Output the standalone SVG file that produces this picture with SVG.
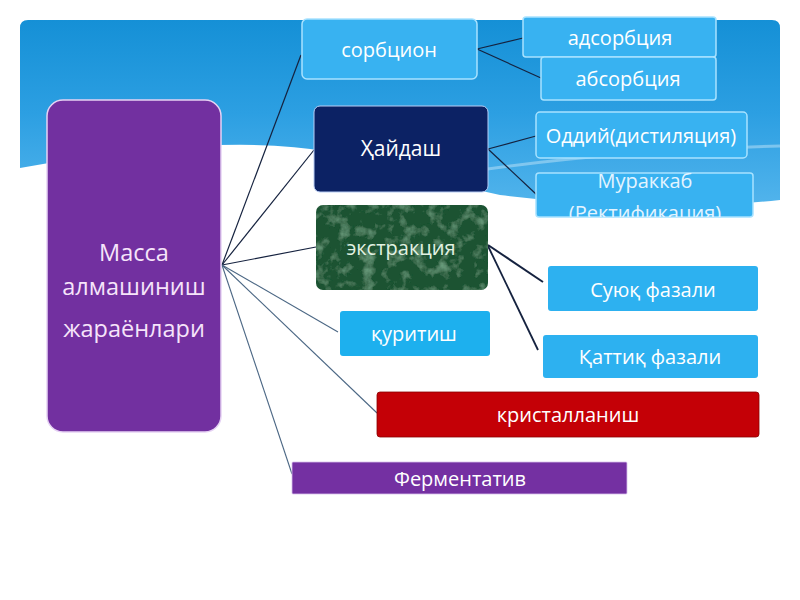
<svg xmlns="http://www.w3.org/2000/svg" width="800" height="600" viewBox="0 0 800 600">
<defs>
<linearGradient id="sky" x1="0" y1="0" x2="0" y2="1">
<stop offset="0" stop-color="#1590d6"/>
<stop offset="0.5" stop-color="#2c9fe2"/>
<stop offset="1" stop-color="#52b4ec"/>
</linearGradient>
<filter id="marble" x="0" y="0" width="1" height="1">
<feTurbulence type="fractalNoise" baseFrequency="0.08" numOctaves="4" seed="7" result="n"/>
<feColorMatrix in="n" type="matrix" values="0 0 0 0 0.18  0 0 0 0 0.4  0 0 0 0 0.25  0 0 0 -1.8 0.9" result="c"/>
<feComposite in="c" in2="SourceGraphic" operator="in" result="t"/>
<feMerge><feMergeNode in="SourceGraphic"/><feMergeNode in="t"/></feMerge>
</filter>
<clipPath id="clipMur"><rect x="536" y="173" width="217" height="44"/></clipPath>
</defs>
<style>
text{font-family:"Open Sans","Noto Sans","DejaVu Sans",sans-serif;text-anchor:middle;dominant-baseline:central;fill:#ffffff}
.lb{fill:#38b2f1;stroke:#a8e2ff;stroke-width:1.5}
.lb2{fill:#2db1f0}
.t20{font-size:20px}
.cn line{stroke:#15223f;stroke-width:1.2}
.cn line.g{stroke:#4b6784;stroke-width:1.1}
</style>
<rect width="800" height="600" fill="#ffffff"/>
<path d="M28,20 H772 Q780,20 780,28 V200 Q650,214 500,195 Q420,178 330,152 Q220,132 20,168 V28 Q20,20 28,20 Z" fill="url(#sky)"/>
<path d="M480,170 Q620,150 780,146" fill="none" stroke="#bfe3f7" stroke-width="3" opacity="0.5"/>
<g class="cn">
<line x1="222" y1="265" x2="301" y2="55"/>
<line x1="222" y1="265" x2="314" y2="150"/>
<line x1="222" y1="265" x2="316" y2="247"/>
<line class="g" x1="222" y1="265" x2="338" y2="332"/>
<line class="g" x1="222" y1="265" x2="377" y2="413"/>
<line class="g" x1="222" y1="265" x2="292" y2="474"/>
<line x1="477" y1="49" x2="523" y2="38"/>
<line x1="477" y1="49" x2="541" y2="78"/>
<line x1="488" y1="149" x2="536" y2="136"/>
<line x1="488" y1="149" x2="537" y2="195"/>
<line x1="488" y1="245" x2="543" y2="282" style="stroke-width:2"/>
<line x1="488" y1="246" x2="538" y2="350" style="stroke-width:1.8"/>
</g>
<g id="main">
<rect x="47" y="100" width="174" height="332" rx="16" fill="#7230a0" stroke="#e6d2f4" stroke-width="1.5"/>
<text x="134" y="252" style="font-size:23.5px;fill:#f6e4fa">Масса</text>
<text x="134" y="286" style="font-size:23.5px;fill:#f6e4fa">алмашиниш</text>
<text x="134" y="328" style="font-size:23.5px;fill:#f6e4fa">жараёнлари</text>
</g>
<g id="sorbtsion">
<rect class="lb" x="302" y="19" width="175" height="60" rx="5"/>
<text class="t20" x="389" y="49">сорбцион</text>
</g>
<g id="adsorbtsiya">
<rect class="lb" x="523" y="17" width="193" height="40" rx="3"/>
<text class="t20" x="620" y="37">адсорбция</text>
</g>
<g id="absorbtsiya">
<rect class="lb" x="541" y="57" width="175" height="43" rx="3"/>
<text class="t20" x="628" y="78">абсорбция</text>
</g>
<g id="haydash">
<rect x="314" y="106" width="174" height="86" rx="6" fill="#0c2264" stroke="#b8cdf5" stroke-width="1"/>
<text x="401" y="148" style="font-size:21px">Ҳайдаш</text>
</g>
<g id="oddiy">
<rect class="lb" x="536" y="112" width="211" height="46" rx="4"/>
<text class="t20" x="641" y="135">Оддий(дистиляция)</text>
</g>
<g id="murakkab">
<rect class="lb" x="536" y="173" width="217" height="44" rx="3"/>
<g clip-path="url(#clipMur)">
<text class="t20" x="645" y="180" style="fill:#e4f4ff">Мураккаб</text>
<text class="t20" x="645" y="212" style="fill:#e4f4ff">(Ректификация)</text>
</g>
</g>
<g id="ekstraktsiya">
<rect x="316" y="205" width="172" height="85" rx="7" fill="#1b5230" filter="url(#marble)"/>
<text class="t20" x="401" y="247" style="fill:#e2f2e2">экстракция</text>
</g>
<g id="suyuq">
<rect class="lb2" x="548" y="266" width="210" height="45" rx="3"/>
<text class="t20" x="653" y="289">Суюқ фазали</text>
</g>
<g id="qattiq">
<rect class="lb2" x="543" y="335" width="215" height="43" rx="3"/>
<text class="t20" x="650" y="356">Қаттиқ фазали</text>
</g>
<g id="quritish">
<rect x="340" y="311" width="150" height="45" rx="3" fill="#1db0ee"/>
<text class="t20" x="414" y="333">қуритиш</text>
</g>
<g id="kristallanish">
<rect x="377" y="392" width="382" height="45" rx="3" fill="#c40006" stroke="#8a0000" stroke-width="0.8"/>
<text class="t20" x="568" y="414">кристалланиш</text>
</g>
<g id="fermentativ">
<rect x="292" y="462" width="335" height="32" rx="1" fill="#7430a2" stroke="#d8c0ec" stroke-width="0.8"/>
<text class="t20" x="460" y="478">Ферментатив</text>
</g>
</svg>
